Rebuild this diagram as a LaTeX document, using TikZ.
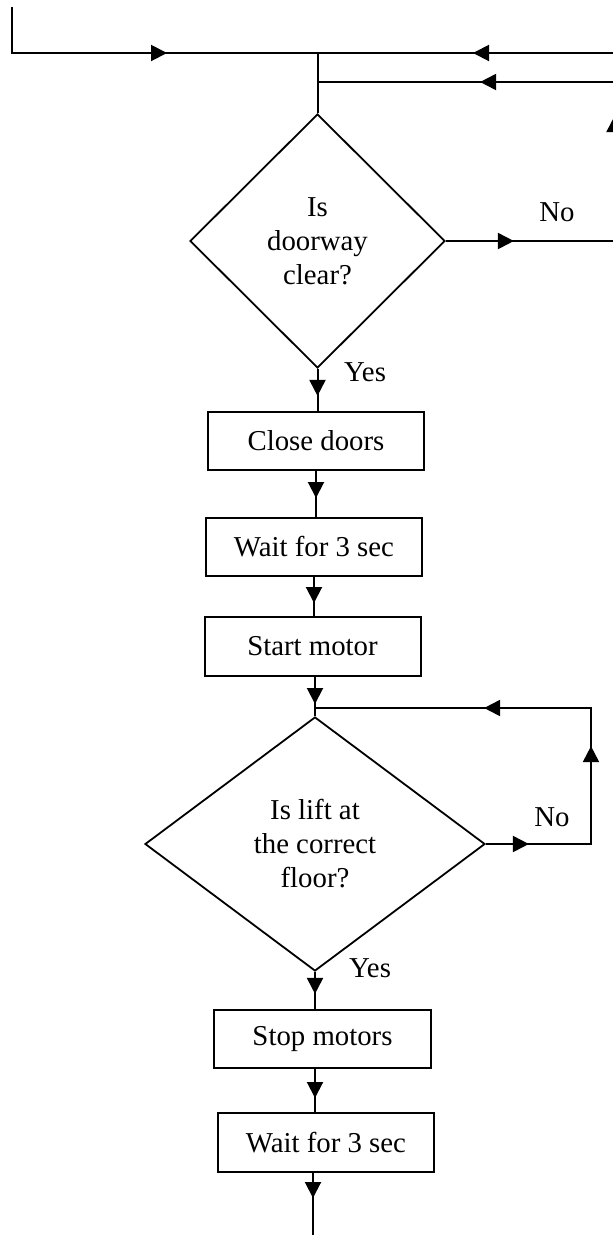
\documentclass[tikz,border=0pt]{standalone}
\usepackage{fontspec}
\setmainfont{Liberation Serif}
\usetikzlibrary{shapes.geometric,arrows.meta,decorations.markings}
\tikzset{
  flow/.style={line width=2pt},
  tipat/.style={postaction={decorate,decoration={markings,
      mark=at position #1 with {\arrow{Triangle[length=16pt,width=16pt]}}}}},
  stepbox/.style={draw,line width=2pt,minimum width=216pt,minimum height=58pt,inner sep=0pt},
  decision/.style={draw,diamond,line width=1.8pt,inner sep=0pt,align=center},
  lbl/.style={inner sep=0pt},
}
\begin{document}
\begin{tikzpicture}[x=1pt,y=-1pt,font=\fontsize{28.8pt}{34pt}\selectfont]
\useasboundingbox (0,0) rectangle (613,1235);

% process steps and decisions
\node[decision,minimum width=255pt,minimum height=254pt] (d1) at (317.5,241) {Is\\doorway\\clear?};
\node[stepbox] (b1) at (316,441) {Close doors};
\node[stepbox] (b2) at (314,547) {Wait for 3 sec};
\node[stepbox,minimum height=59pt] (b3) at (312.5,646.5) {Start motor};
\node[decision,minimum width=340pt,minimum height=254pt] (d2) at (315,844) {Is lift at\\the correct\\floor?};
\node[stepbox,minimum width=217pt] (b4) at (322.5,1039) {Stop motors};
\node[stepbox,minimum height=59pt] (b5) at (326,1142.5) {Wait for 3 sec};

% branch labels
\node[lbl] (no1) at (557,212) {No};
\node[lbl] (yes1) at (365,372) {Yes};
\node[lbl] (no2) at (552,817) {No};
\node[lbl] (yes2) at (370,968) {Yes};

% free ends and bends
\coordinate (inL) at (12,7);
\coordinate (inR) at (613,53);
\coordinate (r82) at (613,82);
\coordinate (edge) at (614.5,0);
\coordinate (j1) at (d1.north |- inR);
\coordinate (loopR) at (591,708);
\coordinate (bottom) at (313,1240);

% entry lines at the top
\draw[flow,tipat=201pt] (inL) -- (inL |- inR) -- (j1);
\draw[flow,tipat=140pt] (inR) -- (j1);
\draw[flow] (j1) -- (d1.north);

% "No" branch of the doorway check
\draw[flow,tipat=68pt,tipat=293.5pt,tipat=462pt]
  (d1.east) -- (d1.east -| edge) -- (edge |- r82) -- (d1.north |- r82);

% main sequence
\draw[flow,tipat=27pt] (d1.south) -- (d1.south |- b1.north);
\draw[flow,tipat=27pt] (b1.south) -- (b1.south |- b2.north);
\draw[flow,tipat=26pt] (b2.south) -- (b2.south |- b3.north);
\draw[flow,tipat=27pt] (d2.north |- b3.south) -- (d2.north);
\draw[flow,tipat=22pt] (d2.south) -- (d2.south |- b4.north);
\draw[flow,tipat=29pt] (d2.south |- b4.south) -- (d2.south |- b5.north);
\draw[flow,tipat=25pt] (bottom |- b5.south) -- (bottom);

% "No" loop of the floor check
\draw[flow,tipat=43pt,tipat=203pt,tipat=348pt]
  (d2.east) -- (d2.east -| loopR) -- (loopR) -- (d2.north |- loopR);
\end{tikzpicture}
\end{document}
